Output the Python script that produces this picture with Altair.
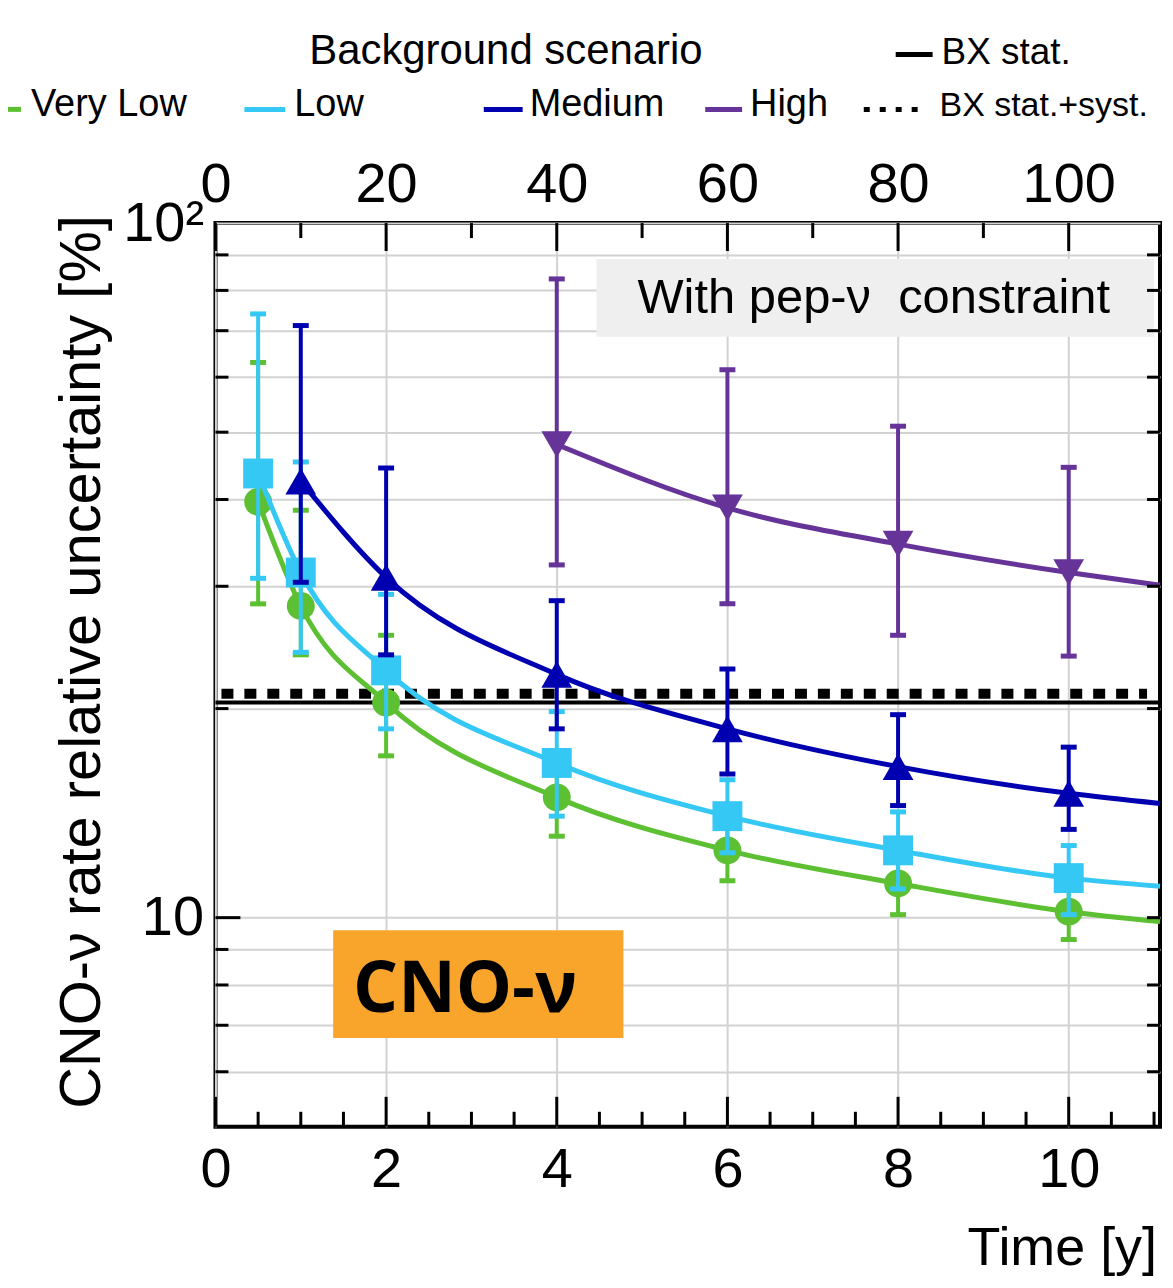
import altair as alt
import pandas as pd

# ---------------- data ----------------
series_names = ["Very Low", "Low", "Medium", "High"]
series_colors = ["#5cc032", "#36c8f4", "#0000b0", "#663399"]
series_shapes = ["circle", "square", "triangle-up", "triangle-down"]
series_sizes = [784, 900, 950, 950]

vl_t = [0.5, 1, 2, 4, 6, 8, 10]
vl_val = [39.7, 28.1, 20.4, 14.9, 12.5, 11.2, 10.2]
vl_lo = [28.3, 23.9, 17.1, 13.1, 11.3, 10.1, 9.3]
vl_hi = [63.0, 38.6, 25.5, 17.0, 13.8, 12.4, 11.1]

low_t = [0.5, 1, 2, 4, 6, 8, 10]
low_val = [43.6, 31.4, 22.7, 16.7, 14.0, 12.5, 11.4]
low_lo = [30.8, 24.1, 18.7, 14.0, 12.4, 11.0, 10.1]
low_hi = [74.0, 45.3, 29.2, 19.8, 15.8, 14.2, 12.7]

med_t = [1, 2, 4, 6, 8, 10]
med_val = [42.5, 30.9, 22.4, 18.7, 16.5, 15.1]
med_lo = [30.4, 23.9, 18.7, 16.1, 14.5, 13.4]
med_hi = [71.2, 44.4, 28.6, 22.8, 19.6, 17.6]

high_t = [4, 6, 8, 10]
high_val = [48.0, 38.9, 34.5, 31.4]
high_lo = [32.2, 28.3, 25.5, 23.8]
high_hi = [83.1, 61.5, 51.0, 44.5]

# fitted curves: they run from the first point to the right edge of the frame
curve_end_t = 11.07
curve_end_val = [9.87, 11.1, 14.6, 30.1]

bx_stat = 20.4
bx_stat_syst = 21.0

x_major = [0, 2, 4, 6, 8, 10]
x_minor_bottom = [0.5, 1, 1.5, 2.5, 3, 3.5, 4.5, 5, 5.5, 6.5, 7, 7.5, 8.5, 9, 9.5, 10.5, 11]
x_minor_top = [1, 3, 5, 7, 9]
y_major = [10]
y_minor = [6, 7, 8, 9, 20, 30, 40, 50, 60, 70, 80, 90]
y_grid = [6, 7, 8, 9, 10, 20, 30, 40, 50, 60, 70, 80, 90, 100]

X_MAX = 11.07
Y_MIN, Y_MAX = 5, 100

# ---------------- layout ----------------
FONT = "Liberation Sans"
W, H = 947, 906
GRID = "#d2d2d2"

xs = alt.Scale(domain=[0, X_MAX], nice=False, zero=False)
ys = alt.Scale(type="log", domain=[Y_MIN, Y_MAX], nice=False)


def X(f):
    return alt.X(f, type="quantitative", scale=xs, axis=None)


def Y(f):
    return alt.Y(f, type="quantitative", scale=ys, axis=None)


def one():
    return pd.DataFrame({"k": [0]})


def text_layer(text, x, y, size, align="left", font=FONT, weight="normal", angle=None):
    mk = dict(align=align, baseline="alphabetic", font=font, fontSize=size,
              fontWeight=weight, color="black")
    if angle is not None:
        mk["angle"] = angle
    return alt.Chart(pd.DataFrame({"label": [text]})).mark_text(**mk).encode(
        x=alt.value(x), y=alt.value(y), text="label:N")


def hline(x1, x2, y, color, width, dash=None):
    mk = dict(color=color, strokeWidth=width)
    if dash:
        mk["strokeDash"] = dash
    return alt.Chart(one()).mark_rule(**mk).encode(
        x=alt.value(x1), x2=alt.value(x2), y=alt.value(y))


layers = []

# axes carriers (bottom + left with grid, top with x10 labels)
carrier = pd.DataFrame({"t": vl_t, "v": vl_val})
layers.append(
    alt.Chart(carrier).mark_point(opacity=0).encode(
        x=alt.X("t:Q", scale=xs, axis=alt.Axis(
            orient="bottom", values=x_major, title=None, ticks=False, tickSize=0,
            domain=False, grid=True, gridColor=GRID, gridWidth=2,
            labelFont=FONT, labelFontSize=56, labelColor="black", labelPadding=16,
            labelOverlap=False, labelFlush=False)),
        y=alt.Y("v:Q", scale=ys, axis=alt.Axis(
            orient="left", values=y_grid, title=None, ticks=False, tickSize=0,
            domain=False, grid=True, gridColor=GRID, gridWidth=2,
            labelExpr="datum.value == 100 ? '10²' : (datum.value == 10 ? '10' : '')",
            labelFont=FONT, labelFontSize=56, labelColor="black", labelPadding=12,
            labelOverlap=False, labelFlush=False, labelBound=False)),
    )
)
layers.append(
    alt.Chart(carrier).mark_point(opacity=0).encode(
        x=alt.X("t:Q", scale=xs, axis=alt.Axis(
            orient="top", values=x_major, title=None, ticks=False, tickSize=0,
            domain=False, grid=False, labelExpr="datum.value * 10",
            labelFont=FONT, labelFontSize=56, labelColor="black", labelPadding=10,
            labelOverlap=False, labelFlush=False)),
        y=Y("v:Q"),
    )
)

# annotation box (behind data)
layers.append(alt.Chart(one()).mark_rect(color="#efefef").encode(
    x=alt.value(382), x2=alt.value(941), y=alt.value(36), y2=alt.value(114)))
layers.append(text_layer("With pep-ν\u00a0 constraint", 660, 90, 49, align="center"))

# BX lines
layers.append(alt.Chart(pd.DataFrame({"v": [bx_stat]})).mark_rule(
    color="black", strokeWidth=4).encode(y=Y("v:Q"), x=alt.value(0), x2=alt.value(W)))
layers.append(alt.Chart(pd.DataFrame({"v": [bx_stat_syst]})).mark_rule(
    color="black", strokeWidth=10, strokeDash=[12, 11]).encode(
    y=Y("v:Q"), x=alt.value(6), x2=alt.value(934)))

# series
all_t = [vl_t, low_t, med_t, high_t]
all_v = [vl_val, low_val, med_val, high_val]
all_lo = [vl_lo, low_lo, med_lo, high_lo]
all_hi = [vl_hi, low_hi, med_hi, high_hi]

for i, name in enumerate(series_names):
    c = series_colors[i]
    df = pd.DataFrame({"t": all_t[i], "v": all_v[i], "lo": all_lo[i], "hi": all_hi[i]})
    cdf = pd.DataFrame({"t": all_t[i] + [curve_end_t], "v": all_v[i] + [curve_end_val[i]]})
    layers.append(alt.Chart(df).mark_rule(color=c, strokeWidth=4).encode(
        x=X("t:Q"), y=Y("lo:Q"), y2="hi:Q"))
    for f in ["lo", "hi"]:
        layers.append(alt.Chart(df).mark_tick(
            color=c, orient="horizontal", size=16, thickness=5, opacity=1).encode(
            x=X("t:Q"), y=Y(f + ":Q")))
    layers.append(alt.Chart(df).mark_point(
        shape=series_shapes[i], filled=True, size=series_sizes[i], color=c,
        opacity=1, strokeWidth=0).encode(x=X("t:Q"), y=Y("v:Q")))
    layers.append(alt.Chart(cdf).mark_line(
        color=c, strokeWidth=5, interpolate="monotone").encode(x=X("t:Q"), y=Y("v:Q")))

# inward ticks
def xticks(vals, y1, y2):
    return alt.Chart(pd.DataFrame({"t": vals})).mark_rule(color="black", strokeWidth=3).encode(
        x=X("t:Q"), y=alt.value(y1), y2=alt.value(y2))


def yticks(vals, x1, x2):
    return alt.Chart(pd.DataFrame({"v": vals})).mark_rule(color="black", strokeWidth=3).encode(
        y=Y("v:Q"), x=alt.value(x1), x2=alt.value(x2))


layers += [
    xticks(x_major, H, H - 30),
    xticks(x_minor_bottom, H, H - 15),
    xticks(x_major, 0, 28),
    xticks(x_minor_top, 0, 15),
    yticks(y_major, 0, 25),
    yticks(y_minor, 0, 13),
    yticks(y_major + y_minor, W, W - 13),
]

# CNO-v label box
layers.append(alt.Chart(one()).mark_rect(color="#f9a52b").encode(
    x=alt.value(118), x2=alt.value(409), y=alt.value(709), y2=alt.value(817)))
layers.append(text_layer("CNO-ν", 138, 791, 71, font="Open Sans", weight="bold"))

# axis titles
layers.append(text_layer("CNO-ν rate relative uncertainty [%]", -116, 440, 58,
                         align="center", angle=270))
layers.append(text_layer("Time [y]", 944, 1045, 54, align="right"))

# legend
layers.append(text_layer("Background scenario", 94, -160, 42))
layers.append(hline(682, 719, -169, "black", 5))
layers.append(text_layer("BX stat.", 728, -160, 37))

row_y_line, row_y_text = -114, -107
legend_pos = [(-216, -195, -185), (29, 70, 79), (269, 308, 315), (491, 528, 536)]
for i, name in enumerate(series_names):
    x1, x2, xt = legend_pos[i]
    layers.append(hline(x1, x2, row_y_line, series_colors[i], 5))
    layers.append(text_layer(name, xt, row_y_text, 38))
layers.append(hline(650, 708, row_y_line, "black", 5, dash=[6, 10]))
layers.append(text_layer("BX stat.+syst.", 726, row_y_text, 34))

chart = alt.layer(*layers).resolve_axis(x="independent", y="independent").properties(
    width=W, height=H,
    autosize=alt.AutoSizeParams(type="none"),
    padding={"left": 208, "top": 214, "right": 5, "bottom": 150},
).configure_view(stroke="black", strokeWidth=4)

chart.save("out.html", embed_options={"renderer": "svg", "actions": False})
